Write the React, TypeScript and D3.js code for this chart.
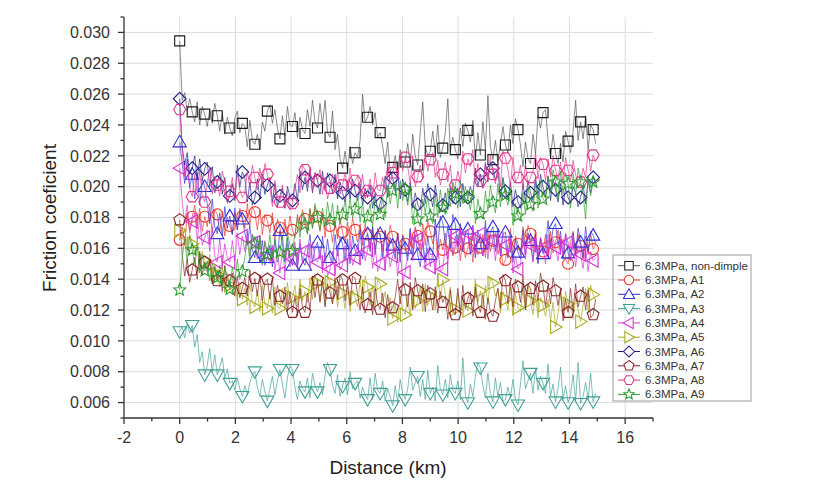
import React from 'react';
import * as d3 from 'd3';

// Sample spacing along the distance axis (km) and marker interval (samples)
const distanceStep = 0.09;
const markerEvery = 5;

const xTicks = [-2, 0, 2, 4, 6, 8, 10, 12, 14, 16];
const yTicks = [0.006, 0.008, 0.01, 0.012, 0.014, 0.016, 0.018, 0.02, 0.022, 0.024, 0.026, 0.028, 0.03];

const seriesNames = [
  '6.3MPa, non-dimple', '6.3MPa, A1', '6.3MPa, A2', '6.3MPa, A3', '6.3MPa, A4',
  '6.3MPa, A5', '6.3MPa, A6', '6.3MPa, A7', '6.3MPa, A8', '6.3MPa, A9',
];

// friction coefficient values, in units of 1e-3
const nonDimple = [
  29.45, 25.6, 26.1, 24.9, 25.7,
  24.85, 24.2, 25.5, 24.0, 25.2,
  24.7, 23.9, 25.0, 24.1, 25.4,
  24.6, 23.6, 24.8, 23.4, 24.5,
  23.8, 23.3, 24.4, 24.9, 23.5,
  24.1, 23.9, 22.6, 24.3, 23.0,
  22.75, 23.4, 22.4, 24.2, 23.6,
  24.9, 25.3, 24.1, 25.0, 23.8,
  23.1, 24.6, 23.3, 25.2, 24.0,
  23.9, 24.8, 23.2, 24.5, 23.7,
  23.45, 25.0, 23.9, 25.6, 24.2,
  23.8, 25.4, 24.0, 25.6, 23.5,
  23.2, 24.9, 22.4, 23.4, 21.8,
  21.2, 22.3, 21.0, 22.6, 21.5,
  22.2, 21.9, 23.0, 26.0, 24.2,
  24.5, 25.2, 24.0, 24.8, 23.2,
  23.5, 22.6, 21.5, 22.9, 21.0,
  21.25, 22.0, 20.9, 22.4, 21.3,
  21.6, 22.8, 21.5, 23.4, 22.0,
  21.4, 23.5, 25.5, 22.6, 22.0,
  22.3, 23.6, 22.1, 24.0, 21.9,
  22.5, 23.5, 25.7, 22.3, 23.2,
  22.4, 21.8, 23.8, 22.6, 24.1,
  23.65, 22.9, 24.3, 21.7, 23.5,
  22.05, 24.2, 22.4, 25.9, 22.6,
  21.75, 23.0, 21.6, 22.8, 23.9,
  22.7, 22.2, 24.0, 22.8, 24.4,
  23.7, 22.7, 21.3, 22.9, 21.8,
  21.5, 23.4, 22.1, 24.6, 23.8,
  24.8, 25.0, 23.0, 21.9, 23.4,
  22.15, 21.5, 22.8, 21.6, 23.6,
  22.95, 22.2, 23.6, 25.6, 23.0,
  24.2, 23.1, 24.6, 22.4, 24.0,
  23.7, 22.8,
];

const a1 = [
  16.55, 17.4, 16.2, 18.3, 17.0,
  18.05, 18.8, 17.3, 18.6, 17.1,
  18.05, 17.4, 18.7, 17.0, 18.5,
  18.2, 17.1, 18.4, 16.8, 18.0,
  17.45, 16.9, 18.3, 17.2, 18.6,
  18.1, 17.3, 18.9, 17.5, 18.7,
  18.35, 17.2, 18.5, 16.9, 18.2,
  17.8, 17.0, 18.3, 16.6, 17.9,
  17.35, 16.5, 17.9, 16.8, 18.1,
  17.2, 16.7, 18.2, 17.1, 18.5,
  17.9, 17.0, 18.6, 17.3, 18.7,
  18.05, 17.1, 18.3, 16.7, 18.0,
  17.45, 16.4, 17.8, 16.6, 17.9,
  17.05, 16.3, 17.7, 16.5, 18.0,
  17.2, 16.4, 17.6, 16.2, 17.5,
  16.9, 16.0, 17.4, 15.9, 17.3,
  16.75, 15.8, 17.2, 16.1, 17.5,
  16.75, 15.7, 17.0, 15.6, 16.9,
  16.3, 15.5, 17.2, 16.0, 17.4,
  16.8, 15.9, 17.6, 16.2, 17.8,
  17.1, 16.3, 17.3, 15.4, 16.6,
  15.9, 17.0, 15.3, 16.8, 15.5,
  16.05, 16.9, 15.2, 16.7, 15.4,
  16.0, 16.8, 15.1, 17.0, 15.6,
  16.05, 16.9, 15.4, 17.2, 15.8,
  16.5, 17.0, 15.6, 16.3, 14.9,
  15.25, 16.2, 17.3, 15.4, 16.8,
  16.3, 15.6, 17.4, 16.1, 17.5,
  16.95, 16.0, 17.2, 15.1, 16.6,
  15.8, 16.9, 15.4, 17.1, 15.7,
  16.4, 17.2, 15.8, 16.6, 15.3,
  15.0, 16.4, 17.1, 15.5, 16.9,
  16.15, 15.3, 16.8, 15.6, 17.0,
  15.95, 16.2,
];

const a2 = [
  22.9, 21.5, 20.2, 21.8, 19.9,
  20.8, 19.2, 20.9, 18.8, 20.5,
  20.0, 18.9, 17.6, 19.2, 17.4,
  16.95, 18.3, 16.8, 18.7, 17.3,
  18.1, 16.9, 18.6, 17.2, 18.4,
  17.9, 17.0, 16.2, 17.5, 15.9,
  15.4, 16.8, 15.1, 16.5, 14.9,
  15.4, 16.2, 14.8, 16.6, 15.5,
  17.15, 16.3, 15.1, 16.7, 15.4,
  14.9, 16.1, 14.7, 16.3, 15.2,
  14.9, 15.7, 16.9, 15.1, 16.0,
  16.4, 15.3, 16.8, 15.2, 16.6,
  15.4, 15.0, 16.9, 15.5, 16.7,
  16.3, 15.2, 16.6, 15.0, 16.8,
  15.85, 15.5, 17.2, 15.3, 16.6,
  16.95, 15.8, 17.4, 15.6, 17.0,
  16.95, 15.4, 17.1, 15.5, 16.7,
  16.2, 15.3, 17.0, 15.1, 16.8,
  16.0, 15.2, 17.3, 15.4, 16.9,
  15.6, 14.8, 16.5, 15.1, 16.8,
  15.6, 15.6, 17.9, 16.0, 18.1,
  17.7, 16.2, 17.4, 16.0, 18.2,
  17.55, 16.1, 17.6, 15.8, 17.0,
  17.25, 15.6, 17.5, 15.4, 17.2,
  16.3, 15.5, 17.8, 15.9, 17.1,
  17.4, 15.8, 17.3, 15.5, 16.9,
  17.05, 15.4, 16.8, 15.1, 16.6,
  15.75, 15.3, 17.2, 15.6, 17.0,
  16.5, 15.2, 16.9, 15.0, 16.7,
  15.65, 16.1, 17.8, 16.0, 17.3,
  17.6, 16.2, 17.1, 15.3, 16.9,
  15.7, 15.2, 17.0, 15.6, 17.3,
  16.4, 15.4, 17.4, 15.8, 17.1,
  16.85, 16.3,
];

const a3 = [
  10.6, 10.9, 10.2, 11.1, 10.5,
  11.0, 9.6, 10.4, 8.6, 9.3,
  7.8, 8.4, 9.5, 8.0, 9.1,
  7.8, 8.3, 8.9, 7.6, 8.2,
  7.25, 7.4, 6.8, 7.6, 6.9,
  6.4, 7.1, 6.5, 7.3, 7.8,
  8.0, 7.0, 6.4, 7.5, 6.7,
  6.1, 6.9, 7.7, 6.5, 7.4,
  8.15, 7.2, 6.3, 7.6, 8.4,
  8.15, 7.0, 6.2, 7.4, 6.9,
  6.7, 7.6, 6.3, 7.9, 7.1,
  6.7, 7.3, 6.5, 7.8, 8.6,
  8.15, 7.1, 6.6, 7.8, 6.4,
  7.05, 7.6, 6.5, 8.0, 6.9,
  7.25, 7.4, 6.3, 7.0, 6.5,
  6.2, 7.6, 6.2, 7.9, 6.8,
  6.6, 7.4, 6.1, 6.9, 6.4,
  5.8, 7.1, 6.0, 7.5, 6.6,
  6.2, 6.9, 8.3, 6.8, 7.3,
  7.7, 6.4, 7.5, 6.2, 8.1,
  6.6, 7.0, 6.1, 8.4, 6.9,
  6.5, 7.5, 6.3, 7.8, 6.8,
  6.6, 7.4, 6.2, 8.9, 6.5,
  6.0, 7.2, 6.4, 7.7, 8.6,
  8.25, 7.1, 6.3, 7.9, 6.6,
  6.05, 7.6, 6.4, 7.3, 6.1,
  6.2, 7.0, 6.3, 7.5, 6.2,
  5.85, 7.2, 8.7, 6.9, 7.4,
  7.9, 6.6, 8.2, 6.8, 7.7,
  7.25, 6.6, 8.5, 6.4, 7.2,
  6.05, 6.9, 8.3, 6.2, 7.1,
  6.0, 6.5, 7.8, 6.1, 8.6,
  5.95, 6.4, 7.3, 6.2, 7.9,
  6.05, 6.6,
];

const a4 = [
  21.2, 19.0, 17.6, 18.8, 17.2,
  17.75, 18.3, 16.5, 17.9, 16.2,
  16.7, 17.2, 15.8, 17.4, 15.5,
  15.1, 16.6, 14.8, 16.3, 15.4,
  15.1, 16.5, 15.2, 17.0, 15.6,
  16.8, 15.8, 17.1, 15.5, 16.9,
  16.4, 15.3, 16.8, 14.9, 16.5,
  15.6, 15.0, 16.2, 14.6, 15.8,
  14.4, 15.9, 14.5, 16.3, 14.8,
  15.3, 16.4, 14.9, 16.6, 15.0,
  15.85, 16.2, 14.7, 16.4, 15.3,
  15.1, 16.0, 14.4, 15.7, 14.2,
  14.65, 15.8, 14.3, 16.1, 14.6,
  14.9, 16.2, 14.8, 16.5, 14.9,
  15.4, 16.3, 14.9, 16.8, 15.2,
  15.9, 16.6, 14.7, 16.2, 14.5,
  15.0, 16.3, 14.6, 16.4, 14.8,
  15.5, 16.0, 14.2, 15.9, 13.9,
  14.45, 15.6, 17.0, 15.2, 17.3,
  16.6, 15.5, 16.4, 14.6, 16.0,
  14.8, 15.7, 14.3, 16.1, 14.5,
  14.65, 16.3, 15.0, 17.2, 15.6,
  16.8, 15.7, 17.3, 16.0, 17.1,
  16.95, 15.8, 17.2, 15.4, 16.6,
  16.95, 15.5, 17.0, 15.3, 16.9,
  16.5, 15.2, 16.8, 15.6, 17.1,
  16.2, 15.4, 16.6, 14.4, 15.5,
  14.65, 14.9, 16.7, 15.3, 16.9,
  16.2, 15.1, 16.8, 15.4, 16.7,
  16.05, 15.0, 16.9, 15.3, 16.6,
  16.05, 15.2, 16.8, 15.5, 17.0,
  16.4, 15.3, 16.5, 14.8, 16.2,
  15.6, 14.7, 16.1, 14.5, 15.8,
  15.2, 15.4,
];

const a5 = [
  17.15, 16.6, 17.3, 16.0, 16.9,
  16.3, 15.6, 16.5, 14.9, 15.8,
  15.2, 14.7, 15.6, 14.0, 15.0,
  14.3, 13.5, 14.8, 13.2, 14.4,
  13.6, 13.0, 14.2, 12.6, 13.8,
  12.7, 13.4, 12.3, 13.7, 12.5,
  12.2, 13.3, 11.9, 13.6, 12.4,
  12.1, 13.2, 11.8, 13.5, 12.2,
  12.1, 13.4, 12.0, 13.8, 12.5,
  12.8, 13.6, 12.2, 14.0, 12.6,
  13.2, 12.5, 14.1, 12.7, 14.3,
  13.75, 12.6, 13.9, 12.3, 14.2,
  13.8, 12.4, 13.8, 12.2, 13.6,
  13.1, 12.1, 13.5, 11.9, 13.3,
  12.8, 12.2, 13.9, 12.5, 14.2,
  13.5, 12.3, 13.6, 12.1, 14.0,
  13.7, 12.5, 13.2, 11.7, 12.8,
  11.45, 12.4, 11.2, 12.9, 12.0,
  11.7, 12.9, 11.6, 13.4, 12.1,
  12.6, 13.5, 11.9, 13.7, 12.3,
  12.9, 13.2, 12.0, 14.3, 12.7,
  13.95, 13.0, 12.5, 13.5, 11.8,
  12.05, 13.1, 11.7, 12.9, 12.4,
  11.95, 13.0, 11.8, 14.0, 12.5,
  13.25, 12.2, 13.6, 12.4, 14.1,
  13.75, 12.9, 13.4, 11.8, 13.2,
  12.7, 12.0, 13.5, 11.6, 13.1,
  12.15, 11.9, 13.3, 12.0, 13.6,
  12.6, 11.7, 13.0, 11.5, 12.8,
  12.3, 11.6, 12.7, 11.3, 12.5,
  10.9, 11.8, 13.1, 11.6, 13.2,
  12.4, 12.6, 11.4, 12.8, 12.0,
  11.25, 12.3, 13.4, 11.9, 13.6,
  13.0, 12.6,
];

const a6 = [
  25.7, 22.6, 21.4, 22.2, 20.8,
  21.2, 22.0, 20.5, 21.8, 20.4,
  21.15, 21.6, 20.0, 21.3, 19.6,
  20.3, 20.9, 19.5, 20.6, 19.0,
  19.4, 20.2, 19.1, 21.4, 20.0,
  20.95, 20.6, 19.0, 20.3, 18.8,
  19.3, 20.5, 19.2, 20.8, 19.5,
  20.1, 20.6, 19.0, 20.2, 18.7,
  19.4, 19.9, 18.6, 20.0, 19.4,
  19.1, 20.2, 19.1, 21.0, 19.8,
  20.6, 19.7, 21.1, 19.6, 20.9,
  20.4, 19.5, 21.0, 19.8, 20.9,
  20.4, 19.6, 20.8, 19.2, 20.3,
  19.6, 19.0, 20.4, 19.2, 20.5,
  19.75, 19.1, 20.2, 18.8, 19.9,
  19.3, 20.1, 18.6, 19.6, 18.4,
  18.9, 19.6, 20.7, 19.3, 21.0,
  20.55, 19.7, 20.9, 19.2, 20.5,
  19.8, 19.0, 20.3, 18.6, 19.6,
  18.85, 18.5, 19.9, 18.9, 20.2,
  19.5, 18.7, 20.1, 19.0, 18.4,
  18.8, 19.6, 18.5, 20.0, 18.9,
  19.3, 19.9, 18.7, 20.2, 19.0,
  19.3, 20.0, 19.4, 21.2, 20.0,
  20.8, 19.9, 21.5, 20.3, 21.6,
  21.2, 20.4, 21.0, 19.3, 20.6,
  19.7, 19.2, 20.3, 18.7, 19.8,
  19.0, 18.6, 20.2, 19.0, 20.4,
  19.6, 19.1, 20.6, 19.4, 20.8,
  20.0, 19.3, 20.7, 19.1, 20.5,
  19.8, 19.0, 20.2, 18.8, 19.9,
  19.3, 18.9, 20.0, 19.6, 18.7,
  19.3, 20.1, 18.9, 20.4, 19.6,
  20.6, 20.2,
];

const a7 = [
  17.85, 15.6, 14.2, 15.3, 13.8,
  14.6, 15.4, 14.0, 15.8, 14.3,
  15.1, 14.5, 15.3, 13.7, 14.8,
  13.9, 14.6, 13.2, 14.9, 13.5,
  13.9, 14.4, 12.9, 14.2, 12.8,
  13.4, 14.1, 12.9, 14.6, 13.2,
  14.05, 12.9, 14.3, 12.6, 13.8,
  14.0, 12.7, 14.1, 12.3, 13.6,
  12.9, 12.4, 13.5, 11.9, 13.2,
  11.85, 12.9, 11.6, 13.4, 12.2,
  11.85, 13.1, 12.0, 14.2, 12.8,
  13.95, 12.5, 14.0, 12.2, 13.7,
  13.1, 12.4, 14.1, 12.7, 14.3,
  13.95, 12.6, 13.8, 12.3, 14.2,
  14.05, 13.0, 12.0, 13.5, 11.8,
  12.35, 13.2, 11.7, 13.4, 12.4,
  12.05, 13.1, 11.5, 13.0, 11.9,
  12.15, 12.8, 14.0, 12.4, 13.9,
  13.3, 12.2, 13.8, 12.0, 14.1,
  13.25, 12.4, 13.7, 11.9, 13.6,
  13.05, 12.0, 13.5, 11.8, 13.2,
  12.5, 12.9, 11.4, 13.3, 12.0,
  11.7, 13.4, 11.8, 13.6, 12.1,
  12.75, 13.2, 11.6, 13.5, 12.3,
  11.85, 13.0, 11.4, 12.8, 11.9,
  11.6, 12.6, 13.4, 12.1, 14.3,
  13.9, 12.4, 13.8, 12.2, 14.0,
  13.5, 12.5, 14.2, 12.0, 13.7,
  13.4, 12.3, 13.9, 12.6, 14.4,
  13.55, 12.2, 13.6, 12.4, 14.1,
  13.25, 12.3, 13.4, 11.3, 12.7,
  11.85, 13.4, 11.9, 13.7, 12.2,
  12.9, 13.5, 12.0, 13.3, 11.5,
  11.7, 12.7,
];

const a8 = [
  25.0, 22.4, 20.6, 21.5, 19.9,
  19.35, 20.8, 19.6, 21.0, 19.4,
  19.0, 20.2, 21.3, 19.5, 20.7,
  20.1, 19.4, 21.0, 20.3, 18.9,
  19.7, 20.6, 19.2, 20.9, 19.8,
  19.3, 19.6, 21.0, 19.9, 21.4,
  20.6, 19.8, 21.2, 20.1, 21.5,
  20.8, 20.0, 18.7, 20.4, 19.3,
  19.0, 20.1, 18.6, 19.7, 18.5,
  18.9, 19.9, 20.8, 19.6, 21.4,
  21.1, 20.0, 21.3, 19.7, 20.9,
  20.4, 21.1, 19.5, 20.6, 19.2,
  19.9, 20.8, 19.6, 21.0, 19.5,
  20.1, 20.9, 19.7, 21.2, 20.0,
  20.4, 20.7, 19.4, 20.8, 19.2,
  19.75, 20.5, 19.3, 20.9, 19.8,
  19.75, 20.6, 19.9, 21.5, 20.2,
  20.9, 21.6, 20.4, 22.0, 21.0,
  21.9, 21.3, 20.2, 22.0, 20.0,
  20.65, 21.4, 20.5, 22.1, 21.0,
  21.75, 22.2, 20.6, 21.7, 20.1,
  20.8, 21.6, 20.3, 21.4, 19.7,
  20.1, 21.0, 20.3, 22.3, 20.9,
  21.8, 21.3, 22.4, 20.2, 21.5,
  20.35, 19.9, 21.6, 20.4, 22.0,
  20.8, 20.2, 21.5, 20.0, 22.3,
  21.85, 21.1, 20.0, 21.9, 20.3,
  20.6, 21.4, 19.9, 21.5, 20.1,
  20.6, 21.0, 22.2, 20.5, 21.9,
  21.45, 20.4, 21.8, 20.6, 22.0,
  21.05, 20.5, 21.6, 20.2, 21.9,
  21.05, 20.4, 21.7, 20.8, 19.9,
  20.3, 21.2, 20.6, 22.4, 21.0,
  22.05, 21.6,
];

const a9 = [
  13.3, 15.4, 16.6, 15.1, 16.8,
  15.9, 15.0, 16.2, 14.4, 15.6,
  14.55, 15.2, 13.9, 15.0, 14.6,
  14.1, 14.9, 13.6, 14.8, 14.2,
  13.35, 14.8, 13.9, 15.3, 14.0,
  14.5, 15.4, 16.6, 15.2, 16.9,
  16.3, 15.5, 16.8, 15.0, 16.4,
  15.6, 16.9, 15.4, 16.6, 15.1,
  15.75, 16.8, 15.3, 17.0, 16.2,
  15.85, 16.9, 18.0, 16.7, 18.3,
  17.55, 16.9, 18.5, 17.3, 18.9,
  18.0, 17.2, 18.6, 17.4, 19.0,
  17.85, 18.9, 17.3, 18.8, 17.6,
  18.2, 19.1, 17.8, 19.3, 18.0,
  18.55, 19.4, 17.7, 19.0, 17.5,
  18.05, 18.9, 17.4, 19.2, 18.6,
  18.2, 19.3, 18.0, 20.1, 18.9,
  19.75, 20.2, 18.6, 20.4, 19.1,
  19.85, 18.8, 20.0, 17.6, 18.9,
  17.9, 17.4, 19.2, 18.3, 19.4,
  18.1, 17.6, 19.5, 18.0, 19.8,
  18.65, 18.2, 19.9, 18.7, 20.3,
  19.55, 18.6, 20.4, 18.9, 20.0,
  19.3, 18.5, 19.8, 17.6, 19.2,
  18.25, 17.9, 19.7, 18.4, 20.1,
  19.0, 18.3, 20.2, 18.7, 20.5,
  19.45, 18.8, 19.9, 17.5, 18.9,
  18.1, 17.8, 19.6, 18.2, 20.0,
  18.85, 18.4, 20.3, 18.6, 20.4,
  19.2, 19.0, 20.7, 19.6, 21.1,
  20.3, 19.2, 21.0, 19.5, 20.9,
  20.2, 18.6, 20.8, 19.4, 21.2,
  20.3, 19.5, 17.9, 20.7, 19.4,
  20.3, 20.0,
];

const seriesValues = [nonDimple, a1, a2, a3, a4, a5, a6, a7, a8, a9];
const seriesColors = ['#1a1a1a', '#e8362e', '#2f2fd6', '#3f9f95', '#d530d5', '#a8a81c', '#1f1f85', '#862222', '#e0358e', '#2c9a2c'];
const seriesLineColors = ['#555555', '#e8362e', '#2f2fd6', '#3f9f95', '#d530d5', '#a8a81c', '#1f1f85', '#862222', '#e0358e', '#2c9a2c'];
const seriesShapes = ['square', 'circle', 'up', 'down', 'left', 'right', 'diamond', 'pentagon', 'hexagon', 'star'];

const W = 824;
const H = 484;
const FONT = '"Liberation Sans", Arial, sans-serif';

function polygon(pts: [number, number][]) {
  return 'M' + pts.map((p) => `${p[0].toFixed(2)},${p[1].toFixed(2)}`).join('L') + 'Z';
}

function regular(n: number, r: number, start: number) {
  const pts: [number, number][] = [];
  for (let i = 0; i < n; i++) {
    const a = start + (i * 2 * Math.PI) / n;
    pts.push([r * Math.cos(a), r * Math.sin(a)]);
  }
  return polygon(pts);
}

function shapePath(shape: string): string {
  switch (shape) {
    case 'square':
      return polygon([[-5, -5], [5, -5], [5, 5], [-5, 5]]);
    case 'circle':
      return 'M5.5,0A5.5,5.5 0 1,1 -5.5,0A5.5,5.5 0 1,1 5.5,0Z';
    case 'up':
      return polygon([[0, -6.6], [6.6, 4.9], [-6.6, 4.9]]);
    case 'down':
      return polygon([[0, 6.6], [6.6, -4.9], [-6.6, -4.9]]);
    case 'left':
      return polygon([[-6.6, 0], [4.9, -6.6], [4.9, 6.6]]);
    case 'right':
      return polygon([[6.6, 0], [-4.9, -6.6], [-4.9, 6.6]]);
    case 'diamond':
      return polygon([[0, -6.4], [6.4, 0], [0, 6.4], [-6.4, 0]]);
    case 'pentagon':
      return regular(5, 6.2, -Math.PI / 2);
    case 'hexagon':
      return regular(6, 6, 0);
    case 'star': {
      const pts: [number, number][] = [];
      for (let i = 0; i < 10; i++) {
        const r = i % 2 === 0 ? 6.4 : 2.8;
        const a = -Math.PI / 2 + (i * Math.PI) / 5;
        pts.push([r * Math.cos(a), r * Math.sin(a)]);
      }
      return polygon(pts);
    }
  }
  return '';
}

export default function App() {
  const x = d3.scaleLinear().domain([-2, 17]).range([124, 653]);
  const y = d3.scaleLinear().domain([0.005, 0.031]).range([418, 17]);

  const line = d3
    .line<number>()
    .x((_, i) => x(i * distanceStep))
    .y((v) => y(v / 1000));

  const xMinor = d3.range(-1, 18, 2);
  const yMinor = d3.range(5, 32, 2).map((v) => v / 1000);

  const [x0, x1] = x.range();
  const [y0, y1] = y.range();

  const legendX = 613;
  const legendY = 255;
  const rowH = 14.3;

  return (
    <div style={{ position: 'absolute', left: 0, top: 0 }}>
      <svg width={W} height={H} style={{ display: 'block', background: '#fff' }} fontFamily={FONT}>
        <rect width={W} height={H} fill="#fff" />
        {/* grid */}
        <g stroke="#dcdcdc" strokeWidth={1}>
          {xTicks.filter((t) => t > -2).map((t) => (
            <line key={'gx' + t} x1={x(t)} x2={x(t)} y1={y1} y2={y0} />
          ))}
          {yTicks.map((t) => (
            <line key={'gy' + t} x1={x0} x2={x1} y1={y(t)} y2={y(t)} />
          ))}
        </g>

        {/* series */}
        {seriesValues.map((vals, si) => (
          <g key={'s' + si}>
            <path d={line(vals) || ''} fill="none" stroke={seriesLineColors[si]} strokeWidth={0.8} strokeOpacity={0.85} />
            {vals.map((v, i) =>
              i % markerEvery === 0 && i < vals.length - 1 ? (
                <path
                  key={i}
                  d={shapePath(seriesShapes[si])}
                  transform={`translate(${x(i * distanceStep)},${y(v / 1000)})`}
                  fill="none"
                  stroke={seriesColors[si]}
                  strokeWidth={1.1}
                />
              ) : null
            )}
          </g>
        ))}

        {/* axes */}
        <g stroke="#333" strokeWidth={1.3} fill="none">
          <line x1={x0} x2={x0} y1={y1} y2={y0} />
          <line x1={x0} x2={x1} y1={y0} y2={y0} />
          {xTicks.map((t) => (
            <line key={'xt' + t} x1={x(t)} x2={x(t)} y1={y0} y2={y0 + 6} />
          ))}
          {xMinor.map((t) => (
            <line key={'xm' + t} x1={x(t)} x2={x(t)} y1={y0} y2={y0 + 3.5} />
          ))}
          {yTicks.map((t) => (
            <line key={'yt' + t} x1={x0 - 6} x2={x0} y1={y(t)} y2={y(t)} />
          ))}
          {yMinor.map((t) => (
            <line key={'ym' + t} x1={x0 - 3.5} x2={x0} y1={y(t)} y2={y(t)} />
          ))}
        </g>
        <g fill="#333" fontSize={16}>
          {xTicks.map((t) => (
            <text key={'xl' + t} x={x(t)} y={443} textAnchor="middle">
              {String(t)}
            </text>
          ))}
          {yTicks.map((t) => (
            <text key={'yl' + t} x={110} y={y(t)} dy="0.36em" textAnchor="end">
              {t.toFixed(3)}
            </text>
          ))}
        </g>
        <text x={388} y={474} textAnchor="middle" fontSize={19} fill="#222">
          Distance (km)
        </text>
        <text
          transform="translate(56,218) rotate(-90)"
          textAnchor="middle"
          fontSize={19}
          fill="#222"
        >
          Friction coeficient
        </text>

        {/* legend */}
        <rect x={legendX} y={legendY} width={138} height={146} fill="none" stroke="#9a9a9a" strokeWidth={1} />
        {seriesNames.map((name, i) => {
          const cy = legendY + 10.7 + i * rowH;
          return (
            <g key={'lg' + i}>
              <line x1={618} x2={640} y1={cy} y2={cy} stroke={seriesLineColors[i]} strokeWidth={1} />
              <path d={shapePath(seriesShapes[i])} transform={`translate(629,${cy}) scale(0.85)`} fill="#fff" stroke={seriesColors[i]} strokeWidth={1.2} />
              <text x={645} y={cy} dy="0.35em" fontSize={11.5} fill="#333">
                {name}
              </text>
            </g>
          );
        })}
      </svg>
    </div>
  );
}
